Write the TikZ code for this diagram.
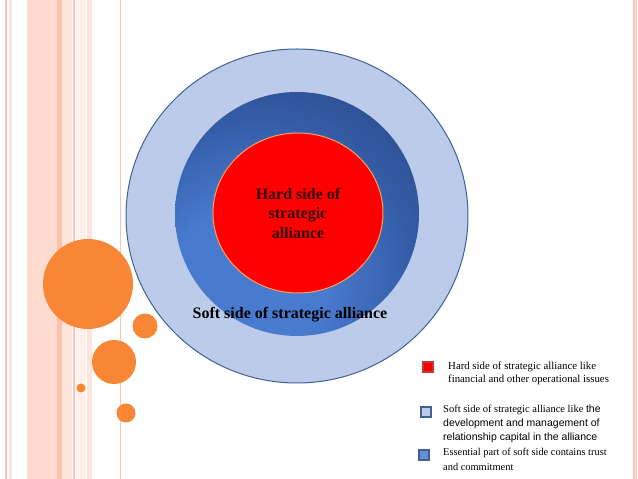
\documentclass[tikz,border=0pt]{standalone}
\usepackage{fontspec}
\setmainfont{Liberation Serif}
\newfontfamily\arialfont{Liberation Sans}
\usetikzlibrary{positioning}

\definecolor{stripeA}{RGB}{248,200,181}
\definecolor{stripeB}{RGB}{253,219,207}
\definecolor{stripeC}{RGB}{249,195,174}
\definecolor{stripeD}{RGB}{253,229,220}
\definecolor{stripeE}{RGB}{254,240,234}
\definecolor{bubble}{RGB}{248,134,52}
\definecolor{outerfill}{RGB}{187,203,233}
\definecolor{outerline}{RGB}{63,98,150}
\definecolor{ringlight}{RGB}{72,122,206}
\definecolor{ringmid}{RGB}{52,92,166}
\definecolor{ringdark}{RGB}{38,65,122}
\definecolor{coreline}{RGB}{244,161,93}
\definecolor{coretext}{RGB}{50,6,6}
\definecolor{keyred}{RGB}{192,60,50}
\definecolor{keyblue}{RGB}{104,142,210}

\pgfdeclareradialshading{ringglow}{\pgfpoint{-12bp}{-18bp}}{color(0bp)=(ringlight); color(16bp)=(ringlight); color(32bp)=(ringmid); color(50bp)=(ringdark); color(100bp)=(ringdark)}

\begin{document}
\begin{tikzpicture}[x=1pt, y=1pt,
    keybox/.style={draw, line width=1.2pt, minimum size=10pt, inner sep=0pt},
    keytext/.style={anchor=west, align=left, inner sep=0pt}]

    \useasboundingbox (0,0) rectangle (638,479);

    % stripes along the page edges
    \fill[stripeA] (5,0) rectangle (7,479);
    \fill[stripeD] (9,0) rectangle (12,479);
    \fill[stripeB] (27,0) rectangle (57,479);
    \fill[stripeC] (57,0) rectangle (62,479);
    \fill[stripeD] (62,0) rectangle (72,479);
    \fill[stripeA] (73,0) rectangle (75,479);
    \fill[stripeE] (76,0) rectangle (86,479);
    \fill[stripeD] (87,0) rectangle (92,479);
    \fill[stripeC] (119.5,0) rectangle (121,479);
    \fill[stripeA] (633,0) rectangle (637,479);
    \fill[stripeD] (634.5,0) rectangle (635.5,479);

    % orange bubbles
    \fill[bubble] (88,195) circle (45);
    \fill[bubble] (145,153) circle (12.5);
    \fill[bubble] (114,117) circle (22);
    \fill[bubble] (81,91) circle (4.5);
    \fill[bubble] (126,66) circle (9.5);

    % the three rings
    \draw[outerline, fill=outerfill, line width=1pt] (297,263) ellipse (171 and 167);
    \shade[shading=ringglow] (297,265) circle (122);
    \draw[coreline, fill=red, line width=1pt] (298,266) ellipse (85 and 80);

    \node[coretext, align=center, font=\bfseries\fontsize{16}{19.5}\selectfont] (hardlbl) at (298,266)
        {Hard side of\\strategic\\alliance};
    \node[black, font=\bfseries\fontsize{16}{19}\selectfont] (softlbl) at (290,164)
        {Soft side of strategic alliance};

    % legend
    \node[keybox, draw=keyred, fill=red] (keyhard) at (428,112) {};
    \node[keybox, draw=outerline, fill=outerfill] (keysoft) at (426,67) {};
    \node[keybox, draw=outerline, fill=keyblue] (keycore) at (424,24) {};

    \node[keytext, font=\fontsize{10.8}{13}\selectfont] (hardtxt) at (448,105.5)
        {Hard side of strategic alliance like\\financial and other operational issues};
    \node[keytext, font=\fontsize{10.5}{14}\selectfont] (softtxt) at (443,55)
        {Soft side of strategic alliance like {\arialfont the}\\{\arialfont development and management of}\\{\arialfont relationship capital in the alliance}};
    \node[keytext, font=\fontsize{10.4}{15}\selectfont] (coretxt) at (443,19.5)
        {Essential part of soft side contains trust\\and commitment};

\end{tikzpicture}
\end{document}
